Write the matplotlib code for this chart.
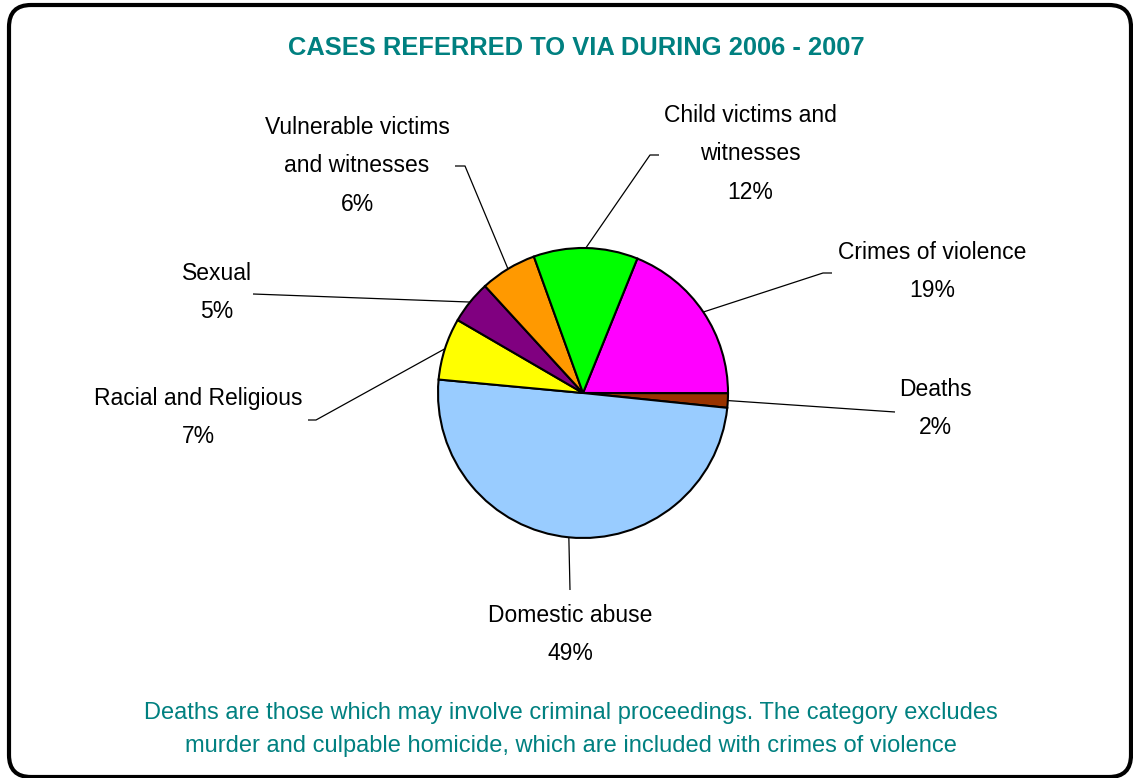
import numpy as np
import matplotlib
matplotlib.use("Agg")
import matplotlib.pyplot as plt
from matplotlib.patches import FancyBboxPatch

# slice data, clockwise from the top-right
categories = ["Crimes of violence", "Deaths", "Domestic abuse", "Racial and Religious",
              "Sexual", "Vulnerable victims\nand witnesses", "Child victims and\nwitnesses"]
shares = [18.9, 1.6, 49.8, 6.9, 4.8, 6.3, 11.6]
pct_labels = ["19%", "2%", "49%", "7%", "5%", "6%", "12%"]
colors = ["#FF00FF", "#993300", "#99CCFF", "#FFFF00", "#800080", "#FF9900", "#00FF00"]

title = "CASES REFERRED TO VIA DURING 2006 - 2007"
note = ("Deaths are those which may involve criminal proceedings. The category excludes\n"
        "murder and culpable homicide, which are included with crimes of violence")

W, H = 1133, 778
teal = "#008080"

fig = plt.figure(figsize=(W / 100, H / 100), dpi=100)
ax = fig.add_axes([0, 0, 1, 1])

def Y(y):
    # pixel row -> data y
    return H - y

cx, cy, r = 583, Y(393), 145
wedges, _ = ax.pie(shares, colors=colors, startangle=68.0, counterclock=False,
                   center=(cx, cy), radius=r, frame=True,
                   wedgeprops=dict(edgecolor="black", linewidth=1.5))

# label text position (x, first line y) and leader elbow points, in pixels
label_pos = [(932, 252), (935, 389), (570, 615), (198, 398), (217, 273), (357, 127), (750, 115)]
elbows = [[(823, 273), (832, 273)],
          [(895, 412)],
          [(570, 590)],
          [(316, 420), (308, 420)],
          [(253, 294)],
          [(465, 166), (455, 166)],
          [(650, 155), (659, 155)]]

for w, cat, pct, (lx, ly), el in zip(wedges, categories, pct_labels, label_pos, elbows):
    mid = np.deg2rad((w.theta1 + w.theta2) / 2)
    xs = [cx + r * np.cos(mid)] + [p[0] for p in el]
    ys = [cy + r * np.sin(mid)] + [Y(p[1]) for p in el]
    ax.plot(xs, ys, color="black", lw=0.9, solid_capstyle="butt")
    lines = cat.split("\n") + [pct]
    for i, t in enumerate(lines):
        ax.text(lx, Y(ly + i * 38.5), t, ha="center", va="center",
                fontsize=16.5, family="Liberation Sans", color="black")

ax.text(576, Y(48), title, ha="center", va="center", fontsize=18.4, fontweight="bold",
        family="Liberation Sans", color=teal)
for i, t in enumerate(note.split("\n")):
    ax.text(571, Y(713 + i * 33), t, ha="center", va="center", fontsize=17,
            family="Liberation Sans", color=teal)

border = FancyBboxPatch((9, Y(777)), 1122, 772, boxstyle="round,pad=0,rounding_size=22",
                        fill=False, edgecolor="black", linewidth=3)
ax.add_patch(border)

ax.set_xlim(0, W)
ax.set_ylim(0, H)
ax.set_aspect("auto")
ax.axis("off")

fig.savefig("out.png", dpi=100)
